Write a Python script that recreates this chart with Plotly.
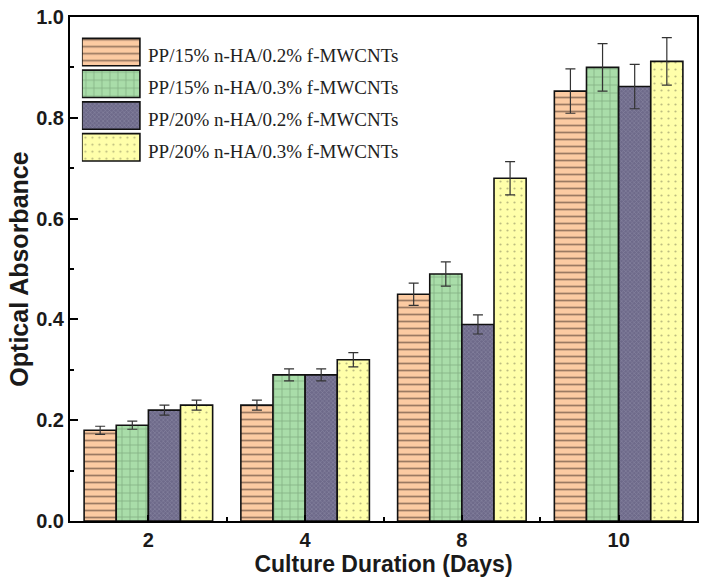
import plotly.graph_objects as go

days = ["2", "4", "8", "10"]
series_names = [
    "PP/15% n-HA/0.2% f-MWCNTs",
    "PP/15% n-HA/0.3% f-MWCNTs",
    "PP/20% n-HA/0.2% f-MWCNTs",
    "PP/20% n-HA/0.3% f-MWCNTs",
]
s1 = [0.18, 0.23, 0.45, 0.853]
s2 = [0.19, 0.29, 0.49, 0.90]
s3 = [0.22, 0.29, 0.39, 0.862]
s4 = [0.23, 0.32, 0.68, 0.912]
e1 = [0.008, 0.010, 0.022, 0.044]
e2 = [0.008, 0.012, 0.024, 0.047]
e3 = [0.010, 0.012, 0.019, 0.044]
e4 = [0.010, 0.014, 0.033, 0.047]

values = [s1, s2, s3, s4]
errors = [e1, e2, e3, e4]

fills = ["#FCCBA2", "#A9DDA9", "#6E6A8A", "#FFFFAA"]
patterns = [
    dict(shape="-", fgcolor="#3a2a22", bgcolor="#FCCBA2", size=7, solidity=0.25, fillmode="overlay"),
    dict(shape="+", fgcolor="#4a6e4a", bgcolor="#A9DDA9", size=8, solidity=0.15, fillmode="overlay"),
    dict(shape="x", fgcolor="#a3a0b8", bgcolor="#6E6A8A", size=3, solidity=0.35, fillmode="overlay"),
    dict(shape=".", fgcolor="#7a7a55", bgcolor="#FFFFAA", size=7, solidity=0.08, fillmode="overlay"),
]

xpos = list(range(len(days)))
alias = {str(p): d for p, d in zip(xpos, days)}

fig = go.Figure()
for i in range(4):
    fig.add_trace(go.Bar(
        x=xpos, y=values[i], name=series_names[i],
        marker=dict(color=fills[i], pattern=patterns[i], line=dict(color="#111111", width=1.6)),
        error_y=dict(type="data", array=errors[i], color="#333333", thickness=1.2, width=5),
        showlegend=False,
    ))

# custom legend swatches on an inset axis (1 unit = swatch width)
for i in range(4):
    fig.add_trace(go.Bar(
        x=[1], y=[i], base=[0], orientation="h", width=0.86, offset=-0.43,
        marker=dict(color=fills[i], pattern=patterns[i], line=dict(color="#111111", width=1.6)),
        xaxis="x2", yaxis="y2", showlegend=False, hoverinfo="skip",
    ))
    fig.add_annotation(
        x=1.1, y=i + 0.12, xref="x2", yref="y2", text=series_names[i],
        showarrow=False, xanchor="left", yanchor="middle",
        font=dict(family="Liberation Serif, Times New Roman, serif", size=19, color="#222222"),
    )

fam = "Liberation Sans, Arial, sans-serif"

fig.update_layout(
    width=704, height=586,
    margin=dict(l=70, r=7, t=17, b=65),
    paper_bgcolor="white", plot_bgcolor="white",
    barmode="group", bargap=0.18, bargroupgap=0,
    xaxis=dict(
        range=[-0.5, 3.5], tickmode="linear", tick0=0, dtick=1, labelalias=alias,
        ticks="inside", ticklen=6, tickwidth=2, tickcolor="black",
        minor=dict(tick0=0.5, dtick=1, ticks="inside", ticklen=4, tickwidth=2, tickcolor="black"),
        showline=True, linecolor="black", linewidth=2, mirror=True,
        showgrid=False, zeroline=False, automargin=False,
        tickfont=dict(family=fam, size=20, color="#1a1a1a", weight="bold"),
        title=dict(text="Culture Duration (Days)", font=dict(family=fam, size=23, color="#1a1a1a", weight="bold"), standoff=2),
    ),
    yaxis=dict(
        range=[0, 1], dtick=0.2, tickformat=".1f", ticklabeloverflow="allow",
        ticks="inside", ticklen=8, tickwidth=2, tickcolor="black",
        minor=dict(dtick=0.1, ticks="inside", ticklen=4, tickwidth=2, tickcolor="black"),
        showline=True, linecolor="black", linewidth=2, mirror=True,
        showgrid=False, zeroline=False, automargin=False,
        tickfont=dict(family=fam, size=20, color="#1a1a1a", weight="bold"),
        title=dict(text="Optical Absorbance", font=dict(family=fam, size=25, color="#1a1a1a", weight="bold"), standoff=0),
    ),
    xaxis2=dict(domain=[0.019, 0.6], range=[0, 6.28], anchor="y2", visible=False, fixedrange=True),
    yaxis2=dict(domain=[0.71, 0.962], range=[3.5, -0.5], anchor="x2", visible=False, fixedrange=True),
    font=dict(family=fam, color="#1a1a1a"),
)

fig.write_html("out.html", config={"displayModeBar": False},
               post_script="document.body.style.margin='0';")
